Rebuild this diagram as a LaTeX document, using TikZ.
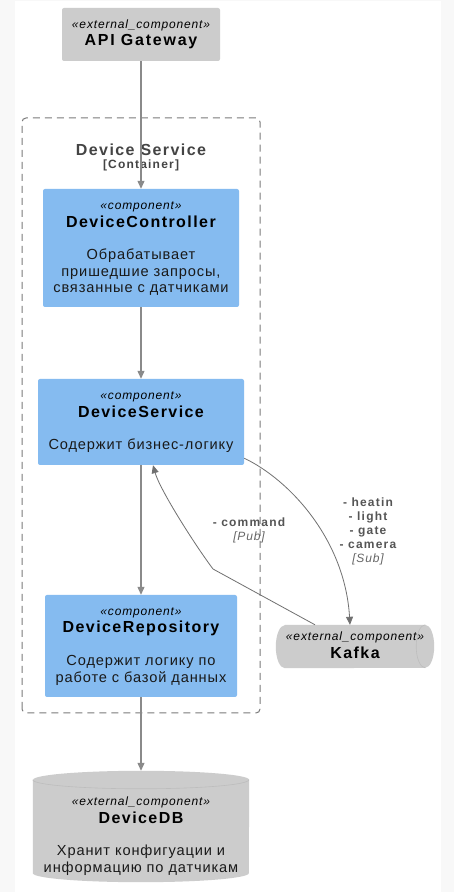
\documentclass[tikz,border=0pt]{standalone}
\usepackage{fontspec}
\setmainfont{Liberation Sans}[LetterSpace=6]
\newfontfamily\nmfont{Liberation Sans}[LetterSpace=9]
\newfontfamily\gwfont{Liberation Sans}[LetterSpace=11]
\newfontfamily\stfont{Liberation Sans}[LetterSpace=7]
\newfontfamily\lbfont{Liberation Sans}[LetterSpace=10]
\newcommand{\lblitfont}{\stfont\mdseries\itshape\color{lblit}}
\usetikzlibrary{arrows.meta,calc}
\definecolor{bgc}{HTML}{F8F8F8}
\definecolor{extgray}{HTML}{CCCCCC}
\definecolor{extedge}{HTML}{BDBDBD}
\definecolor{compblue}{HTML}{85BBF0}
\definecolor{linkc}{HTML}{707070}
\definecolor{vlinkc}{HTML}{8A8A8A}
\definecolor{dashc}{HTML}{7A7A7A}
\definecolor{titlec}{HTML}{444444}
\definecolor{lblc}{HTML}{555555}
\definecolor{lblit}{HTML}{666666}
\begin{document}
\begin{tikzpicture}[x=1pt,y=1pt,
  ext/.style={rectangle,fill=extgray,rounded corners=2pt,inner sep=0pt},
  comp/.style={rectangle,fill=compblue,rounded corners=2pt,inner sep=0pt},
  hidden/.style={rectangle,inner sep=0pt},
  txt/.style={inner sep=0pt,anchor=center,align=center},
  stereo/.style={txt,font=\stfont\itshape\fontsize{12}{14}\selectfont},
  nm/.style={txt,font=\nmfont\bfseries\fontsize{16}{19}\selectfont},
  desc/.style={txt,font=\fontsize{14.6}{16.5}\selectfont,text=black!90},
  ttl/.style={txt,font=\nmfont\bfseries\fontsize{16}{19}\selectfont,text=titlec},
  ttlsub/.style={txt,font=\lbfont\bfseries\fontsize{12}{14}\selectfont,text=titlec},
  lbl/.style={txt,font=\lbfont\bfseries\fontsize{12}{14}\selectfont,text=lblc},
  vlink/.style={draw=vlinkc,line width=1.1pt,-{Triangle[length=8pt,width=7pt]}},
  clink/.style={draw=linkc,line width=0.8pt,-{Triangle[length=8pt,width=7pt]}},
  boundary/.style={draw=dashc,line width=1pt,dash pattern=on 7pt off 5pt,rounded corners=4pt}
]
\useasboundingbox (0,0) rectangle (454,892);
\fill[bgc] (0,0) rectangle (454,892);
\fill[white] (15,0) rectangle (441,891);

% container boundary
\draw[boundary] (22,179) rectangle (260,774);
\node[ttl] (cttl) at (141,742) {Device Service};
\node[ttlsub] (csub) at (141,727) {[Container]};

% API Gateway
\node[ext,minimum width=158pt,minimum height=53pt] (gw) at (141,857.5) {};
\node[stereo] (gwst) at (141,867) {«external\_component»};
\node[nm,font=\gwfont\bfseries\fontsize{16}{19}\selectfont] (gwnm) at (141,850) {API Gateway};

% DeviceController
\node[comp,minimum width=196pt,minimum height=118pt] (dc) at (141,644) {};
\node[stereo] (dcst) at (141,685) {«component»};
\node[nm] (dcnm) at (141,670) {DeviceController};
\node[desc] (dcds) at (141,619.5) {Обрабатывает\\пришедшие запросы,\\связанные с датчиками};

% DeviceService
\node[comp,minimum width=206pt,minimum height=86pt] (ds) at (141,470) {};
\node[stereo] (dsst) at (141,495) {«component»};
\node[nm] (dsnm) at (141,480) {DeviceService};
\node[desc] (dsds) at (141,446) {Содержит бизнес-логику};

% DeviceRepository
\node[comp,minimum width=192pt,minimum height=102pt] (dr) at (141,246) {};
\node[stereo] (drst) at (141,279) {«component»};
\node[nm] (drnm) at (141,264) {DeviceRepository};
\node[desc] (drds) at (141,221.5) {Содержит логику по\\работе с базой данных};

% Kafka (horizontal cylinder)
\node[hidden,minimum width=158pt,minimum height=43pt] (kafka) at (355,245.5) {};
\fill[extgray] ([xshift=9pt]kafka.north west) -- ([xshift=-9pt]kafka.north east)
  arc[start angle=90,end angle=-90,x radius=9,y radius=21.5]
  -- ([xshift=9pt]kafka.south west)
  arc[start angle=270,end angle=90,x radius=9,y radius=21.5] -- cycle;
\draw[extedge,line width=0.6pt] ([xshift=-9pt]kafka.north east)
  arc[start angle=90,end angle=270,x radius=9,y radius=21.5];
\node[stereo] (kfst) at (355,255) {«external\_component»};
\node[nm] (kfnm) at (355,239) {Kafka};

% DeviceDB (vertical cylinder)
\node[hidden,minimum width=216pt,minimum height=111pt] (db) at (141,65.5) {};
\fill[extgray] ([yshift=-9pt]db.north west) -- ([yshift=9pt]db.south west)
  arc[start angle=180,end angle=360,x radius=108,y radius=9]
  -- ([yshift=-9pt]db.north east)
  arc[start angle=0,end angle=180,x radius=108,y radius=9] -- cycle;
\draw[extedge,line width=0.6pt] ([yshift=-9pt]db.north west)
  arc[start angle=180,end angle=360,x radius=108,y radius=9];
\node[stereo] (dbst) at (141,90) {«external\_component»};
\node[nm] (dbnm) at (141,74) {DeviceDB};
\node[desc] (dbds) at (141,32) {Хранит конфигуации и\\информацию по датчикам};

% vertical connectors
\draw[vlink] (gw.south) -- (dc.north);
\draw[vlink] (dc.south) -- (ds.north);
\draw[vlink] (ds.south) -- (dr.north);
\draw[vlink] (dr.south) -- (db.north);

% DeviceService -> Kafka (Sub)
\coordinate (subs) at ($(ds.south east)+(0,7)$);
\coordinate (sube) at ($(kafka.north)+(-5,0)$);
\draw[clink] (subs) .. controls (290,412) and (345,352) .. (sube);
\node[lbl] (sublbl) at (368,361) {- heatin\\- light\\- gate\\- camera\\{\lblitfont [Sub]}};

% Kafka -> DeviceService (Pub)
\coordinate (pubs) at ($(kafka.north)+(-40,0)$);
\coordinate (cbend) at (213,323);
\coordinate (pube) at ($(ds.south)+(12,0)$);
\draw[clink] (pubs) -- (cbend) .. controls (195,347) and (160,402) .. (pube);
\node[lbl] (publbl) at (249,361.5) {- command\\{\lblitfont [Pub]}};
\end{tikzpicture}
\end{document}
